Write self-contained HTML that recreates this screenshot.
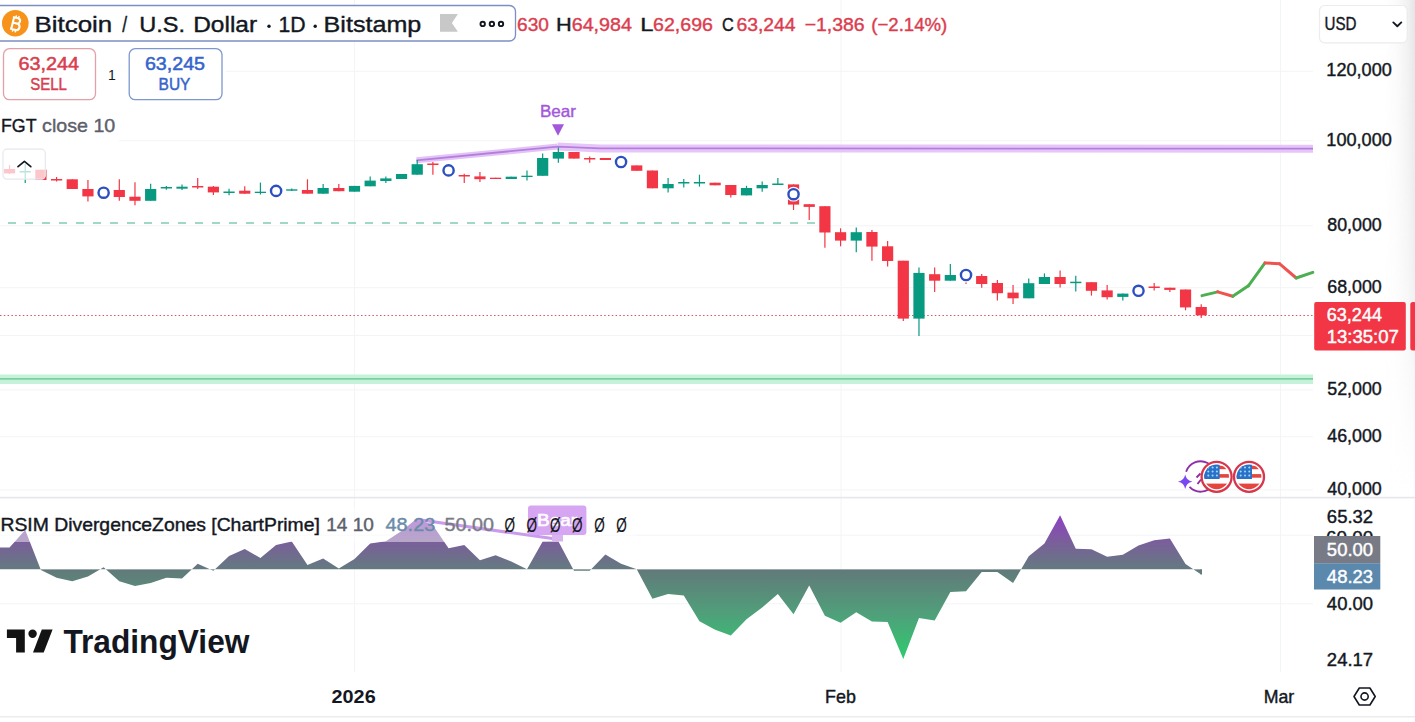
<!DOCTYPE html><html><head><meta charset="utf-8"><style>html,body{margin:0;padding:0;background:#fff;width:1415px;height:722px;overflow:hidden}svg,text{font-family:"Liberation Sans", sans-serif}</style></head><body><svg width="1415" height="722" viewBox="0 0 1415 722" style="display:block">
<defs>
<linearGradient id="gUp" gradientUnits="userSpaceOnUse" x1="0" y1="515" x2="0" y2="569">
<stop offset="0" stop-color="#8f3fc6"/><stop offset="0.5" stop-color="#7a5f9a"/><stop offset="1" stop-color="#647a80"/></linearGradient>
<linearGradient id="gDn" gradientUnits="userSpaceOnUse" x1="0" y1="569" x2="0" y2="660">
<stop offset="0" stop-color="#62797a"/><stop offset="0.5" stop-color="#4fa07a"/><stop offset="1" stop-color="#2ecc6f"/></linearGradient>
<linearGradient id="rshade" x1="0" y1="0" x2="1" y2="0">
<stop offset="0" stop-color="#e0e0e0" stop-opacity="0"/><stop offset="0.4" stop-color="#e0e0e0" stop-opacity="0.15"/><stop offset="0.75" stop-color="#e0e0e0" stop-opacity="0.45"/><stop offset="1" stop-color="#e0e0e0" stop-opacity="0.85"/></linearGradient>
<linearGradient id="vfade" x1="0" y1="0" x2="0" y2="1"><stop offset="0" stop-color="#fff"/><stop offset="0.55" stop-color="#fff" stop-opacity="0.6"/><stop offset="1" stop-color="#fff" stop-opacity="0"/></linearGradient>
<mask id="mshade"><rect x="1385" y="0" width="30" height="497" fill="url(#vfade)"/></mask>
<clipPath id="cUp"><rect x="0" y="480" width="1313" height="89.2"/></clipPath>
<clipPath id="cDn"><rect x="0" y="569.2" width="1313" height="110"/></clipPath>
<clipPath id="cMain"><rect x="0" y="0" width="1313" height="497"/></clipPath>
</defs>
<rect x="0" y="0" width="1415" height="722" fill="#ffffff"/>
<rect x="1385" y="0" width="30" height="497" fill="url(#rshade)" mask="url(#mshade)"/>
<line x1="0" y1="71.3" x2="1313" y2="71.3" stroke="#f3f4f6" stroke-width="1"/>
<line x1="0" y1="140.8" x2="1313" y2="140.8" stroke="#f3f4f6" stroke-width="1"/>
<line x1="0" y1="225.8" x2="1313" y2="225.8" stroke="#f3f4f6" stroke-width="1"/>
<line x1="0" y1="287.7" x2="1313" y2="287.7" stroke="#f3f4f6" stroke-width="1"/>
<line x1="0" y1="335.4" x2="1313" y2="335.4" stroke="#f3f4f6" stroke-width="1"/>
<line x1="0" y1="389.9" x2="1313" y2="389.9" stroke="#f3f4f6" stroke-width="1"/>
<line x1="0" y1="436.7" x2="1313" y2="436.7" stroke="#f3f4f6" stroke-width="1"/>
<line x1="0" y1="489.9" x2="1313" y2="489.9" stroke="#f3f4f6" stroke-width="1"/>
<line x1="0" y1="535.2" x2="1313" y2="535.2" stroke="#f3f4f6" stroke-width="1"/>
<line x1="0" y1="603.8" x2="1313" y2="603.8" stroke="#f3f4f6" stroke-width="1"/>
<line x1="354.5" y1="0" x2="354.5" y2="497" stroke="#f3f4f6" stroke-width="1"/>
<line x1="354.5" y1="498" x2="354.5" y2="672" stroke="#f3f4f6" stroke-width="1"/>
<line x1="841" y1="0" x2="841" y2="497" stroke="#f3f4f6" stroke-width="1"/>
<line x1="841" y1="498" x2="841" y2="672" stroke="#f3f4f6" stroke-width="1"/>
<line x1="1280.5" y1="0" x2="1280.5" y2="497" stroke="#f3f4f6" stroke-width="1"/>
<line x1="1280.5" y1="498" x2="1280.5" y2="672" stroke="#f3f4f6" stroke-width="1"/>
<rect x="0" y="374.5" width="1313" height="9.5" fill="#c5f2d8"/>
<line x1="0" y1="378.9" x2="1313" y2="378.9" stroke="#7ccfa4" stroke-width="1.6"/>
<line x1="0" y1="223" x2="815" y2="223" stroke="#80cbb2" stroke-width="1.6" stroke-dasharray="8 9" stroke-dashoffset="9"/>
<line x1="0" y1="315.5" x2="1313" y2="315.5" stroke="#c8495a" stroke-width="1.1" stroke-dasharray="1.5 2.3" opacity="0.9"/>
<g clip-path="url(#cMain)">
<polyline points="416.5,160.3 557.6,146.6" fill="none" stroke="#e3c3f7" stroke-width="6" stroke-linecap="butt"/>
<polyline points="557.6,146.6 600,148.4 1313,148.7" fill="none" stroke="#e6c6f8" stroke-width="8" stroke-linejoin="round"/>
<polyline points="416.5,160.3 557.6,146.6 600,148.4 1313,148.7" fill="none" stroke="#b47fdc" stroke-width="1.8" stroke-linejoin="round"/>
</g>
<line x1="9.54" y1="165" x2="9.54" y2="174" stroke="#f23645" stroke-width="1.2"/>
<rect x="3.94" y="169" width="11.2" height="4.40" fill="#f23645"/>
<line x1="25.22" y1="164" x2="25.22" y2="183" stroke="#089981" stroke-width="1.2"/>
<rect x="19.62" y="171" width="11.2" height="1.50" fill="#089981"/>
<line x1="40.90" y1="169.7" x2="40.90" y2="180" stroke="#f23645" stroke-width="1.2"/>
<rect x="35.30" y="169.7" width="11.2" height="10.30" fill="#f23645"/>
<line x1="56.58" y1="177" x2="56.58" y2="181.5" stroke="#f23645" stroke-width="1.2"/>
<rect x="50.98" y="179" width="11.2" height="1.50" fill="#f23645"/>
<line x1="72.26" y1="179.3" x2="72.26" y2="189" stroke="#f23645" stroke-width="1.2"/>
<rect x="66.66" y="179.3" width="11.2" height="9.70" fill="#f23645"/>
<line x1="87.94" y1="180" x2="87.94" y2="201.6" stroke="#f23645" stroke-width="1.2"/>
<rect x="82.34" y="189" width="11.2" height="7.40" fill="#f23645"/>
<line x1="103.62" y1="186" x2="103.62" y2="196" stroke="#f23645" stroke-width="1.2"/>
<rect x="98.02" y="190" width="11.2" height="3.00" fill="#f23645"/>
<line x1="119.30" y1="179.3" x2="119.30" y2="200.8" stroke="#f23645" stroke-width="1.2"/>
<rect x="113.70" y="190" width="11.2" height="7.00" fill="#f23645"/>
<line x1="134.98" y1="182.3" x2="134.98" y2="205.3" stroke="#f23645" stroke-width="1.2"/>
<rect x="129.38" y="196.7" width="11.2" height="4.10" fill="#f23645"/>
<line x1="150.66" y1="183.8" x2="150.66" y2="200.8" stroke="#089981" stroke-width="1.2"/>
<rect x="145.06" y="189" width="11.2" height="11.80" fill="#089981"/>
<line x1="166.34" y1="186" x2="166.34" y2="189.7" stroke="#089981" stroke-width="1.2"/>
<rect x="160.74" y="187" width="11.2" height="1.50" fill="#089981"/>
<line x1="182.02" y1="184.5" x2="182.02" y2="190" stroke="#089981" stroke-width="1.2"/>
<rect x="176.42" y="186.7" width="11.2" height="2.00" fill="#089981"/>
<line x1="197.70" y1="178" x2="197.70" y2="189" stroke="#f23645" stroke-width="1.2"/>
<rect x="192.10" y="186" width="11.2" height="1.50" fill="#f23645"/>
<line x1="213.38" y1="186" x2="213.38" y2="195" stroke="#f23645" stroke-width="1.2"/>
<rect x="207.78" y="186.7" width="11.2" height="5.70" fill="#f23645"/>
<line x1="229.06" y1="188.8" x2="229.06" y2="195.3" stroke="#089981" stroke-width="1.2"/>
<rect x="223.46" y="191.5" width="11.2" height="1.50" fill="#089981"/>
<line x1="244.74" y1="186.3" x2="244.74" y2="193.7" stroke="#f23645" stroke-width="1.2"/>
<rect x="239.14" y="190.7" width="11.2" height="3.00" fill="#f23645"/>
<line x1="260.42" y1="182.6" x2="260.42" y2="194.5" stroke="#089981" stroke-width="1.2"/>
<rect x="254.82" y="191.7" width="11.2" height="1.30" fill="#089981"/>
<line x1="276.10" y1="189" x2="276.10" y2="193" stroke="#089981" stroke-width="1.2"/>
<rect x="270.50" y="190" width="11.2" height="2.00" fill="#089981"/>
<line x1="291.78" y1="188.5" x2="291.78" y2="191" stroke="#089981" stroke-width="1.2"/>
<rect x="286.18" y="189.3" width="11.2" height="1.40" fill="#089981"/>
<line x1="307.46" y1="179.3" x2="307.46" y2="193.7" stroke="#f23645" stroke-width="1.2"/>
<rect x="301.86" y="190" width="11.2" height="3.70" fill="#f23645"/>
<line x1="323.14" y1="184" x2="323.14" y2="193.7" stroke="#089981" stroke-width="1.2"/>
<rect x="317.54" y="188" width="11.2" height="5.70" fill="#089981"/>
<line x1="338.82" y1="184" x2="338.82" y2="191.2" stroke="#f23645" stroke-width="1.2"/>
<rect x="333.22" y="188" width="11.2" height="3.20" fill="#f23645"/>
<line x1="354.50" y1="185.9" x2="354.50" y2="191.7" stroke="#089981" stroke-width="1.2"/>
<rect x="348.90" y="185.9" width="11.2" height="5.80" fill="#089981"/>
<line x1="370.18" y1="176.6" x2="370.18" y2="186.3" stroke="#089981" stroke-width="1.2"/>
<rect x="364.58" y="180.6" width="11.2" height="5.70" fill="#089981"/>
<line x1="385.86" y1="176.5" x2="385.86" y2="183" stroke="#089981" stroke-width="1.2"/>
<rect x="380.26" y="178.4" width="11.2" height="2.60" fill="#089981"/>
<line x1="401.54" y1="174" x2="401.54" y2="179" stroke="#089981" stroke-width="1.2"/>
<rect x="395.94" y="174" width="11.2" height="5.00" fill="#089981"/>
<line x1="417.22" y1="160" x2="417.22" y2="174.7" stroke="#089981" stroke-width="1.2"/>
<rect x="411.62" y="164.2" width="11.2" height="10.50" fill="#089981"/>
<line x1="432.90" y1="162" x2="432.90" y2="174.7" stroke="#f23645" stroke-width="1.2"/>
<rect x="427.30" y="163.5" width="11.2" height="1.50" fill="#f23645"/>
<line x1="448.58" y1="167" x2="448.58" y2="175" stroke="#f23645" stroke-width="1.2"/>
<rect x="442.98" y="169" width="11.2" height="3.00" fill="#f23645"/>
<line x1="464.26" y1="173.8" x2="464.26" y2="183" stroke="#f23645" stroke-width="1.2"/>
<rect x="458.66" y="175" width="11.2" height="1.50" fill="#f23645"/>
<line x1="479.94" y1="172" x2="479.94" y2="182" stroke="#f23645" stroke-width="1.2"/>
<rect x="474.34" y="176.4" width="11.2" height="2.80" fill="#f23645"/>
<line x1="495.62" y1="177.7" x2="495.62" y2="179" stroke="#f23645" stroke-width="1.2"/>
<rect x="490.02" y="177.7" width="11.2" height="1.30" fill="#f23645"/>
<line x1="511.30" y1="176.7" x2="511.30" y2="179" stroke="#089981" stroke-width="1.2"/>
<rect x="505.70" y="176.7" width="11.2" height="2.30" fill="#089981"/>
<line x1="526.98" y1="170.4" x2="526.98" y2="180.6" stroke="#089981" stroke-width="1.2"/>
<rect x="521.38" y="175.7" width="11.2" height="1.30" fill="#089981"/>
<line x1="542.66" y1="153.5" x2="542.66" y2="175.8" stroke="#089981" stroke-width="1.2"/>
<rect x="537.06" y="158" width="11.2" height="17.80" fill="#089981"/>
<line x1="558.34" y1="147.5" x2="558.34" y2="162.8" stroke="#089981" stroke-width="1.2"/>
<rect x="552.74" y="152" width="11.2" height="6.60" fill="#089981"/>
<line x1="574.02" y1="152" x2="574.02" y2="158.6" stroke="#f23645" stroke-width="1.2"/>
<rect x="568.42" y="152" width="11.2" height="6.60" fill="#f23645"/>
<line x1="589.70" y1="156.4" x2="589.70" y2="162.8" stroke="#f23645" stroke-width="1.2"/>
<rect x="584.10" y="158" width="11.2" height="1.50" fill="#f23645"/>
<line x1="605.38" y1="158" x2="605.38" y2="160" stroke="#f23645" stroke-width="1.2"/>
<rect x="599.78" y="158" width="11.2" height="2.00" fill="#f23645"/>
<line x1="621.06" y1="159" x2="621.06" y2="166" stroke="#f23645" stroke-width="1.2"/>
<rect x="615.46" y="160" width="11.2" height="4.00" fill="#f23645"/>
<line x1="636.74" y1="165.4" x2="636.74" y2="170.8" stroke="#f23645" stroke-width="1.2"/>
<rect x="631.14" y="165.4" width="11.2" height="5.40" fill="#f23645"/>
<line x1="652.42" y1="170.5" x2="652.42" y2="188.3" stroke="#f23645" stroke-width="1.2"/>
<rect x="646.82" y="170.5" width="11.2" height="17.80" fill="#f23645"/>
<line x1="668.10" y1="178" x2="668.10" y2="192.5" stroke="#089981" stroke-width="1.2"/>
<rect x="662.50" y="184" width="11.2" height="4.30" fill="#089981"/>
<line x1="683.78" y1="179" x2="683.78" y2="187.5" stroke="#089981" stroke-width="1.2"/>
<rect x="678.18" y="182" width="11.2" height="1.50" fill="#089981"/>
<line x1="699.46" y1="174.7" x2="699.46" y2="186.6" stroke="#089981" stroke-width="1.2"/>
<rect x="693.86" y="182" width="11.2" height="1.50" fill="#089981"/>
<line x1="715.14" y1="182.7" x2="715.14" y2="185.3" stroke="#f23645" stroke-width="1.2"/>
<rect x="709.54" y="182.7" width="11.2" height="2.60" fill="#f23645"/>
<line x1="730.82" y1="185" x2="730.82" y2="197.6" stroke="#f23645" stroke-width="1.2"/>
<rect x="725.22" y="185" width="11.2" height="10.00" fill="#f23645"/>
<line x1="746.50" y1="185.8" x2="746.50" y2="195.4" stroke="#089981" stroke-width="1.2"/>
<rect x="740.90" y="188" width="11.2" height="7.40" fill="#089981"/>
<line x1="762.18" y1="181.5" x2="762.18" y2="191.7" stroke="#089981" stroke-width="1.2"/>
<rect x="756.58" y="185" width="11.2" height="3.30" fill="#089981"/>
<line x1="777.86" y1="178" x2="777.86" y2="185" stroke="#089981" stroke-width="1.2"/>
<rect x="772.26" y="183.5" width="11.2" height="1.50" fill="#089981"/>
<line x1="793.54" y1="184.4" x2="793.54" y2="210" stroke="#f23645" stroke-width="1.2"/>
<rect x="787.94" y="184.4" width="11.2" height="20.20" fill="#f23645"/>
<line x1="809.22" y1="204.2" x2="809.22" y2="220" stroke="#f23645" stroke-width="1.2"/>
<rect x="803.62" y="204.2" width="11.2" height="2.70" fill="#f23645"/>
<line x1="824.90" y1="206.2" x2="824.90" y2="247.7" stroke="#f23645" stroke-width="1.2"/>
<rect x="819.30" y="206.2" width="11.2" height="26.30" fill="#f23645"/>
<line x1="840.58" y1="228.3" x2="840.58" y2="246.3" stroke="#f23645" stroke-width="1.2"/>
<rect x="834.98" y="232.2" width="11.2" height="8.40" fill="#f23645"/>
<line x1="856.26" y1="227.6" x2="856.26" y2="252.2" stroke="#089981" stroke-width="1.2"/>
<rect x="850.66" y="232.2" width="11.2" height="8.40" fill="#089981"/>
<line x1="871.94" y1="230" x2="871.94" y2="260.7" stroke="#f23645" stroke-width="1.2"/>
<rect x="866.34" y="232" width="11.2" height="14.60" fill="#f23645"/>
<line x1="887.62" y1="241" x2="887.62" y2="266.6" stroke="#f23645" stroke-width="1.2"/>
<rect x="882.02" y="246.3" width="11.2" height="14.70" fill="#f23645"/>
<line x1="903.30" y1="260.7" x2="903.30" y2="321" stroke="#f23645" stroke-width="1.2"/>
<rect x="897.70" y="260.7" width="11.2" height="57.90" fill="#f23645"/>
<line x1="918.98" y1="267.5" x2="918.98" y2="336" stroke="#089981" stroke-width="1.2"/>
<rect x="913.38" y="272.9" width="11.2" height="45.70" fill="#089981"/>
<line x1="934.66" y1="267.5" x2="934.66" y2="292" stroke="#f23645" stroke-width="1.2"/>
<rect x="929.06" y="274.2" width="11.2" height="6.50" fill="#f23645"/>
<line x1="950.34" y1="264" x2="950.34" y2="280.7" stroke="#089981" stroke-width="1.2"/>
<rect x="944.74" y="275" width="11.2" height="5.70" fill="#089981"/>
<line x1="966.02" y1="270" x2="966.02" y2="284" stroke="#f23645" stroke-width="1.2"/>
<rect x="960.42" y="272" width="11.2" height="6.00" fill="#f23645"/>
<line x1="981.70" y1="274" x2="981.70" y2="287.8" stroke="#f23645" stroke-width="1.2"/>
<rect x="976.10" y="276" width="11.2" height="8.00" fill="#f23645"/>
<line x1="997.38" y1="280" x2="997.38" y2="300.5" stroke="#f23645" stroke-width="1.2"/>
<rect x="991.78" y="283" width="11.2" height="10.20" fill="#f23645"/>
<line x1="1013.06" y1="285" x2="1013.06" y2="304" stroke="#f23645" stroke-width="1.2"/>
<rect x="1007.46" y="292.6" width="11.2" height="5.70" fill="#f23645"/>
<line x1="1028.74" y1="278.5" x2="1028.74" y2="298.3" stroke="#089981" stroke-width="1.2"/>
<rect x="1023.14" y="283.2" width="11.2" height="15.10" fill="#089981"/>
<line x1="1044.42" y1="273.4" x2="1044.42" y2="284" stroke="#089981" stroke-width="1.2"/>
<rect x="1038.82" y="277" width="11.2" height="7.00" fill="#089981"/>
<line x1="1060.10" y1="270.5" x2="1060.10" y2="287.5" stroke="#f23645" stroke-width="1.2"/>
<rect x="1054.50" y="277" width="11.2" height="7.00" fill="#f23645"/>
<line x1="1075.78" y1="275.7" x2="1075.78" y2="291.4" stroke="#089981" stroke-width="1.2"/>
<rect x="1070.18" y="281.7" width="11.2" height="1.50" fill="#089981"/>
<line x1="1091.46" y1="282.2" x2="1091.46" y2="295.6" stroke="#f23645" stroke-width="1.2"/>
<rect x="1085.86" y="282.2" width="11.2" height="8.60" fill="#f23645"/>
<line x1="1107.14" y1="285" x2="1107.14" y2="299.6" stroke="#f23645" stroke-width="1.2"/>
<rect x="1101.54" y="290.4" width="11.2" height="6.80" fill="#f23645"/>
<line x1="1122.82" y1="293.6" x2="1122.82" y2="300.5" stroke="#089981" stroke-width="1.2"/>
<rect x="1117.22" y="293.6" width="11.2" height="3.30" fill="#089981"/>
<line x1="1138.50" y1="288" x2="1138.50" y2="293" stroke="#089981" stroke-width="1.2"/>
<rect x="1132.90" y="289" width="11.2" height="3.00" fill="#089981"/>
<line x1="1154.18" y1="283" x2="1154.18" y2="290.4" stroke="#f23645" stroke-width="1.2"/>
<rect x="1148.58" y="286.5" width="11.2" height="1.50" fill="#f23645"/>
<line x1="1169.86" y1="287.7" x2="1169.86" y2="292" stroke="#f23645" stroke-width="1.2"/>
<rect x="1164.26" y="287.7" width="11.2" height="2.20" fill="#f23645"/>
<line x1="1185.54" y1="289.5" x2="1185.54" y2="310.3" stroke="#f23645" stroke-width="1.2"/>
<rect x="1179.94" y="289.5" width="11.2" height="17.90" fill="#f23645"/>
<line x1="1201.22" y1="304.2" x2="1201.22" y2="318" stroke="#f23645" stroke-width="1.2"/>
<rect x="1195.62" y="307" width="11.2" height="8.30" fill="#f23645"/>
<circle cx="103.62" cy="192.7" r="7.4" fill="#ffffff"/>
<circle cx="103.62" cy="192.7" r="5.1" fill="#ffffff" stroke="#2d4fbf" stroke-width="2.4"/>
<circle cx="276.10" cy="190.9" r="7.4" fill="#ffffff"/>
<circle cx="276.10" cy="190.9" r="5.1" fill="#ffffff" stroke="#2d4fbf" stroke-width="2.4"/>
<circle cx="448.58" cy="170.4" r="7.4" fill="#ffffff"/>
<circle cx="448.58" cy="170.4" r="5.1" fill="#ffffff" stroke="#2d4fbf" stroke-width="2.4"/>
<circle cx="621.06" cy="162" r="7.4" fill="#ffffff"/>
<circle cx="621.06" cy="162" r="5.1" fill="#ffffff" stroke="#2d4fbf" stroke-width="2.4"/>
<circle cx="793.54" cy="194.2" r="7.4" fill="#ffffff"/>
<circle cx="793.54" cy="194.2" r="5.1" fill="#ffffff" stroke="#2d4fbf" stroke-width="2.4"/>
<circle cx="966.02" cy="275" r="7.4" fill="#ffffff"/>
<circle cx="966.02" cy="275" r="5.1" fill="#ffffff" stroke="#2d4fbf" stroke-width="2.4"/>
<circle cx="1138.50" cy="290.8" r="7.4" fill="#ffffff"/>
<circle cx="1138.50" cy="290.8" r="5.1" fill="#ffffff" stroke="#2d4fbf" stroke-width="2.4"/>
<line x1="1202" y1="295.6" x2="1217.7" y2="291.9" stroke="#4caf50" stroke-width="3" stroke-linecap="round"/>
<line x1="1217.7" y1="291.9" x2="1232.8" y2="296.3" stroke="#ef5350" stroke-width="3" stroke-linecap="round"/>
<line x1="1232.8" y1="296.3" x2="1248.4" y2="285.8" stroke="#4caf50" stroke-width="3" stroke-linecap="round"/>
<line x1="1248.4" y1="285.8" x2="1265" y2="262.9" stroke="#4caf50" stroke-width="3" stroke-linecap="round"/>
<line x1="1265" y1="262.9" x2="1279.7" y2="263.8" stroke="#ef5350" stroke-width="3" stroke-linecap="round"/>
<line x1="1279.7" y1="263.8" x2="1296.2" y2="278" stroke="#ef5350" stroke-width="3" stroke-linecap="round"/>
<line x1="1296.2" y1="278" x2="1312.8" y2="272.4" stroke="#4caf50" stroke-width="3" stroke-linecap="round"/>
<text x="540" y="117" font-size="16.5" fill="#a357db" stroke="#a357db" stroke-width="0.4" textLength="36" lengthAdjust="spacingAndGlyphs">Bear</text>
<path d="M552,124.2 L564,124.2 L558,135.7 Z" fill="#a357db"/>
<polygon points="-12,569.2 -12,547.5 9.54,547.50 25.22,530.00 40.90,570.00 56.58,577.80 72.26,581.30 87.94,576.60 103.62,567.30 119.30,581.30 134.98,586.00 150.66,583.00 166.34,577.80 182.02,578.50 197.70,563.80 213.38,570.80 229.06,556.00 244.74,549.00 260.42,558.00 276.10,545.00 291.78,541.60 307.46,565.00 323.14,558.40 338.82,568.50 354.50,559.00 370.18,543.50 385.86,541.20 401.54,531.00 417.22,518.30 432.90,525.30 448.58,548.20 464.26,545.10 479.94,560.30 495.62,555.20 511.30,561.50 526.98,569.20 542.66,541.60 558.34,541.20 574.02,570.80 589.70,570.80 605.38,554.50 621.06,563.80 636.74,569.20 652.42,598.80 668.10,594.10 683.78,595.50 699.46,621.20 715.14,629.80 730.82,635.60 746.50,619.30 762.18,607.60 777.86,594.10 793.54,614.20 809.22,585.50 824.90,615.80 840.58,622.80 856.26,612.30 871.94,621.60 887.62,622.10 903.30,658.90 918.98,618.10 934.66,620.50 950.34,592.00 966.02,591.20 981.70,572.00 997.38,572.00 1013.06,583.10 1028.74,556.20 1044.42,543.50 1060.10,515.30 1075.78,548.80 1091.46,549.20 1107.14,556.80 1122.82,554.70 1138.50,545.60 1154.18,540.30 1169.86,538.60 1185.54,564.00 1201.22,574.60 1201.22,569.2" fill="url(#gUp)" clip-path="url(#cUp)"/>
<polygon points="-12,569.2 -12,547.5 9.54,547.50 25.22,530.00 40.90,570.00 56.58,577.80 72.26,581.30 87.94,576.60 103.62,567.30 119.30,581.30 134.98,586.00 150.66,583.00 166.34,577.80 182.02,578.50 197.70,563.80 213.38,570.80 229.06,556.00 244.74,549.00 260.42,558.00 276.10,545.00 291.78,541.60 307.46,565.00 323.14,558.40 338.82,568.50 354.50,559.00 370.18,543.50 385.86,541.20 401.54,531.00 417.22,518.30 432.90,525.30 448.58,548.20 464.26,545.10 479.94,560.30 495.62,555.20 511.30,561.50 526.98,569.20 542.66,541.60 558.34,541.20 574.02,570.80 589.70,570.80 605.38,554.50 621.06,563.80 636.74,569.20 652.42,598.80 668.10,594.10 683.78,595.50 699.46,621.20 715.14,629.80 730.82,635.60 746.50,619.30 762.18,607.60 777.86,594.10 793.54,614.20 809.22,585.50 824.90,615.80 840.58,622.80 856.26,612.30 871.94,621.60 887.62,622.10 903.30,658.90 918.98,618.10 934.66,620.50 950.34,592.00 966.02,591.20 981.70,572.00 997.38,572.00 1013.06,583.10 1028.74,556.20 1044.42,543.50 1060.10,515.30 1075.78,548.80 1091.46,549.20 1107.14,556.80 1122.82,554.70 1138.50,545.60 1154.18,540.30 1169.86,538.60 1185.54,564.00 1201.22,574.60 1201.22,569.2" fill="url(#gDn)" clip-path="url(#cDn)"/>
<line x1="1201.22" y1="569.2" x2="1201.22" y2="574.6" stroke="#62797a" stroke-width="1.5"/>
<rect x="0" y="507" width="636" height="35" fill="#ffffff" fill-opacity="0.45"/>
<line x1="417.3" y1="519.5" x2="556" y2="539" stroke="#c99bec" stroke-width="3.2"/>
<rect x="552" y="535" width="11" height="6.5" fill="#d8b4f0"/>
<rect x="528" y="505.5" width="58.4" height="29.6" rx="3" fill="#d6a6f2"/>
<text x="537" y="526" font-size="16" fill="#ffffff" fill-opacity="0.92" stroke="#ffffff" stroke-width="0.6" textLength="40" lengthAdjust="spacingAndGlyphs">Bear</text>
<text x="0.45999999999999996" y="531.1" font-size="18.5" font-weight="normal" fill="#131722" text-anchor="start" textLength="319.44" lengthAdjust="spacingAndGlyphs" stroke="#131722" stroke-width="0.4">RSIM DivergenceZones [ChartPrime]</text>
<text x="326.15" y="531.1" font-size="18.5" font-weight="normal" fill="#5d606b" text-anchor="start" textLength="47.75" lengthAdjust="spacingAndGlyphs" stroke="#5d606b" stroke-width="0.4">14 10</text>
<text x="385.44" y="531.1" font-size="18.5" font-weight="normal" fill="#6a8ca8" text-anchor="start" textLength="49.90" lengthAdjust="spacingAndGlyphs" stroke="#6a8ca8" stroke-width="0.4">48.23</text>
<text x="444.49" y="531.1" font-size="18.5" font-weight="normal" fill="#787b86" text-anchor="start" textLength="49.41" lengthAdjust="spacingAndGlyphs" stroke="#787b86" stroke-width="0.4">50.00</text>
<text x="504.4" y="532" font-size="20" font-weight="normal" fill="#131722" text-anchor="start" textLength="10.50" lengthAdjust="spacingAndGlyphs" stroke="#131722" stroke-width="0.2">Ø</text>
<text x="526.5" y="532" font-size="20" font-weight="normal" fill="#131722" text-anchor="start" textLength="10.50" lengthAdjust="spacingAndGlyphs" stroke="#131722" stroke-width="0.2">Ø</text>
<text x="549.9" y="532" font-size="20" font-weight="normal" fill="#131722" text-anchor="start" textLength="10.50" lengthAdjust="spacingAndGlyphs" stroke="#131722" stroke-width="0.2">Ø</text>
<text x="572" y="532" font-size="20" font-weight="normal" fill="#131722" text-anchor="start" textLength="10.50" lengthAdjust="spacingAndGlyphs" stroke="#131722" stroke-width="0.2">Ø</text>
<text x="594.2" y="532" font-size="20" font-weight="normal" fill="#131722" text-anchor="start" textLength="10.50" lengthAdjust="spacingAndGlyphs" stroke="#131722" stroke-width="0.2">Ø</text>
<text x="616.3" y="532" font-size="20" font-weight="normal" fill="#131722" text-anchor="start" textLength="10.50" lengthAdjust="spacingAndGlyphs" stroke="#131722" stroke-width="0.2">Ø</text>
<rect x="-10" y="5.5" width="525.5" height="35.5" rx="6" fill="#ffffff" stroke="#7d8ec4" stroke-width="1.3"/>
<circle cx="15.3" cy="23.2" r="13.3" fill="#f7931a"/>
<g transform="translate(15.6,23.8) rotate(14)" fill="none" stroke="#ffffff"><path d="M-3,-6 V6 M-4.2,-6 H1 C4.6,-6 4.6,-0.5 1,-0.5 H-3 M-3,-0.5 H1.6 C5.6,-0.5 5.6,6 1.6,6 H-4.2" stroke-width="2.1"/><path d="M-1.2,-8.4 V-6 M1.6,-8.4 V-6 M-1.2,6 V8.4 M1.6,6 V8.4" stroke-width="1.5"/></g>
<text x="34.42" y="32.4" font-size="22.5" font-weight="normal" fill="#131722" text-anchor="start" textLength="77.87" lengthAdjust="spacingAndGlyphs" stroke="#131722" stroke-width="0.4">Bitcoin</text>
<text x="122.17" y="32.4" font-size="22.5" font-weight="normal" fill="#131722" text-anchor="start" textLength="4.88" lengthAdjust="spacingAndGlyphs" stroke="#131722" stroke-width="0.4">/</text>
<text x="139.2" y="32.4" font-size="22.5" font-weight="normal" fill="#131722" text-anchor="start" textLength="45.82" lengthAdjust="spacingAndGlyphs" stroke="#131722" stroke-width="0.4">U.S.</text>
<text x="193.2" y="32.4" font-size="22.5" font-weight="normal" fill="#131722" text-anchor="start" textLength="63.97" lengthAdjust="spacingAndGlyphs" stroke="#131722" stroke-width="0.4">Dollar</text>
<text x="278.54" y="32.4" font-size="22.5" font-weight="normal" fill="#131722" text-anchor="start" textLength="27.14" lengthAdjust="spacingAndGlyphs" stroke="#131722" stroke-width="0.4">1D</text>
<text x="323.64" y="32.4" font-size="22.5" font-weight="normal" fill="#131722" text-anchor="start" textLength="97.65" lengthAdjust="spacingAndGlyphs" stroke="#131722" stroke-width="0.4">Bitstamp</text>
<circle cx="269" cy="26.3" r="1.7" fill="#131722"/>
<circle cx="315.2" cy="26.3" r="1.7" fill="#131722"/>
<path d="M440,14 L457.9,14 L451.9,23 L457.9,31.7 L440,31.7 Z" fill="#c8c8c8"/>
<circle cx="482.7" cy="23.9" r="2.2" fill="none" stroke="#131722" stroke-width="1.9"/>
<circle cx="491.9" cy="23.9" r="2.2" fill="none" stroke="#131722" stroke-width="1.9"/>
<circle cx="501" cy="23.9" r="2.2" fill="none" stroke="#131722" stroke-width="1.9"/>
<text x="517.1" y="30.8" font-size="19" font-weight="normal" fill="#dc3d4e" text-anchor="start" textLength="31.80" lengthAdjust="spacingAndGlyphs" stroke="#dc3d4e" stroke-width="0.4">630</text>
<text x="556.08" y="30.8" font-size="19" font-weight="normal" fill="#131722" text-anchor="start" textLength="15.72" lengthAdjust="spacingAndGlyphs" stroke="#131722" stroke-width="0.4">H</text>
<text x="571.71" y="30.8" font-size="19" font-weight="normal" fill="#dc3d4e" text-anchor="start" textLength="60.29" lengthAdjust="spacingAndGlyphs" stroke="#dc3d4e" stroke-width="0.4">64,984</text>
<text x="640.25" y="30.8" font-size="19" font-weight="normal" fill="#131722" text-anchor="start" textLength="13.21" lengthAdjust="spacingAndGlyphs" stroke="#131722" stroke-width="0.4">L</text>
<text x="653.1" y="30.8" font-size="19" font-weight="normal" fill="#dc3d4e" text-anchor="start" textLength="59.80" lengthAdjust="spacingAndGlyphs" stroke="#dc3d4e" stroke-width="0.4">62,696</text>
<text x="722.1" y="30.8" font-size="19" font-weight="normal" fill="#131722" text-anchor="start" textLength="11.80" lengthAdjust="spacingAndGlyphs" stroke="#131722" stroke-width="0.4">C</text>
<text x="736.4399999999999" y="30.8" font-size="19" font-weight="normal" fill="#dc3d4e" text-anchor="start" textLength="59.12" lengthAdjust="spacingAndGlyphs" stroke="#dc3d4e" stroke-width="0.4">63,244</text>
<text x="804.71" y="30.8" font-size="19" font-weight="normal" fill="#dc3d4e" text-anchor="start" textLength="59.97" lengthAdjust="spacingAndGlyphs" stroke="#dc3d4e" stroke-width="0.4">−1,386</text>
<text x="871.3199999999999" y="30.8" font-size="19" font-weight="normal" fill="#dc3d4e" text-anchor="start" textLength="75.97" lengthAdjust="spacingAndGlyphs" stroke="#dc3d4e" stroke-width="0.4">(−2.14%)</text>
<rect x="0" y="45" width="226" height="58" fill="#ffffff" fill-opacity="0.9"/>
<rect x="0" y="109" width="119" height="34" fill="#ffffff" fill-opacity="0.9"/>
<rect x="3.5" y="48.7" width="92" height="51" rx="6" fill="#ffffff" stroke="#e3a0a7" stroke-width="1.3"/>
<rect x="129.2" y="48.7" width="92.8" height="51" rx="6" fill="#ffffff" stroke="#7f97cf" stroke-width="1.3"/>
<text x="18.490000000000002" y="69.9" font-size="17.5" font-weight="normal" fill="#d8404f" text-anchor="start" textLength="60.51" lengthAdjust="spacingAndGlyphs" stroke="#d8404f" stroke-width="0.5">63,244</text>
<text x="30.27" y="89.7" font-size="16" font-weight="normal" fill="#d8404f" text-anchor="start" textLength="36.68" lengthAdjust="spacingAndGlyphs" stroke="#d8404f" stroke-width="0.45">SELL</text>
<text x="144.93" y="69.9" font-size="17.5" font-weight="normal" fill="#3564cc" text-anchor="start" textLength="60.07" lengthAdjust="spacingAndGlyphs" stroke="#3564cc" stroke-width="0.5">63,245</text>
<text x="158.59" y="89.7" font-size="16" font-weight="normal" fill="#3564cc" text-anchor="start" textLength="31.80" lengthAdjust="spacingAndGlyphs" stroke="#3564cc" stroke-width="0.45">BUY</text>
<text x="112" y="80.2" font-size="14" font-weight="normal" fill="#131722" text-anchor="middle">1</text>
<text x="0.96" y="131.5" font-size="19" font-weight="normal" fill="#131722" text-anchor="start" textLength="35.54" lengthAdjust="spacingAndGlyphs" stroke="#131722" stroke-width="0.4">FGT</text>
<text x="42.1" y="131.5" font-size="19" font-weight="normal" fill="#5d606b" text-anchor="start" textLength="73.19" lengthAdjust="spacingAndGlyphs" stroke="#5d606b" stroke-width="0.4">close 10</text>
<rect x="3" y="149.2" width="42.3" height="30" rx="4" fill="#ffffff" fill-opacity="0.72" stroke="#e6e8ee" stroke-width="1.2"/>
<path d="M18,166.6 L24.4,161.3 L30.8,166.6" fill="none" stroke="#131722" stroke-width="1.7" stroke-linecap="round" stroke-linejoin="round"/>
<g>
<path d="M1186.1,471.8 A15.2,15.2 0 1 1 1189.5,486.9" fill="none" stroke="#8e2fa8" stroke-width="1.9"/>
<path d="M1196.5,477.5 L1200.5,473.5 M1197.5,484 L1201,479.5" fill="none" stroke="#8e2fa8" stroke-width="1.9"/>
<path d="M1185.2,474.6 Q1186.3,480.7 1192.4,481.8 Q1186.3,482.9 1185.2,489 Q1184.1,482.9 1178,481.8 Q1184.1,480.7 1185.2,474.6 Z" fill="#7a48f2"/>
<circle cx="1216.6" cy="476.8" r="15" fill="#ffffff" stroke="#d8364b" stroke-width="2.3"/>
<clipPath id="fl1216"><circle cx="1216.6" cy="476.8" r="12.4"/></clipPath>
<g clip-path="url(#fl1216)">
<rect x="1203.6" y="463" width="26" height="26" fill="#ffffff"/>
<rect x="1203.6" y="465.6" width="26" height="3.6" fill="#e4453f"/>
<rect x="1203.6" y="474.1" width="26" height="3.6" fill="#e4453f"/>
<rect x="1203.6" y="483.6" width="26" height="8" fill="#e4453f"/>
<rect x="1203.6" y="463" width="16" height="16" fill="#2a72c8"/>
<circle cx="1208.3" cy="467.4" r="1.0" fill="#9fdcff"/>
<circle cx="1212.6" cy="467.4" r="1.0" fill="#9fdcff"/>
<circle cx="1216.8999999999999" cy="467.4" r="1.0" fill="#9fdcff"/>
<circle cx="1208.3" cy="471.5" r="1.0" fill="#9fdcff"/>
<circle cx="1212.6" cy="471.5" r="1.0" fill="#9fdcff"/>
<circle cx="1216.8999999999999" cy="471.5" r="1.0" fill="#9fdcff"/>
<circle cx="1208.3" cy="475.59999999999997" r="1.0" fill="#9fdcff"/>
<circle cx="1212.6" cy="475.59999999999997" r="1.0" fill="#9fdcff"/>
<circle cx="1216.8999999999999" cy="475.59999999999997" r="1.0" fill="#9fdcff"/>
</g>
<circle cx="1249" cy="476.8" r="15" fill="#ffffff" stroke="#d8364b" stroke-width="2.3"/>
<clipPath id="fl1249"><circle cx="1249" cy="476.8" r="12.4"/></clipPath>
<g clip-path="url(#fl1249)">
<rect x="1236" y="463" width="26" height="26" fill="#ffffff"/>
<rect x="1236" y="465.6" width="26" height="3.6" fill="#e4453f"/>
<rect x="1236" y="474.1" width="26" height="3.6" fill="#e4453f"/>
<rect x="1236" y="483.6" width="26" height="8" fill="#e4453f"/>
<rect x="1236" y="463" width="16" height="16" fill="#2a72c8"/>
<circle cx="1240.7" cy="467.4" r="1.0" fill="#9fdcff"/>
<circle cx="1245.0" cy="467.4" r="1.0" fill="#9fdcff"/>
<circle cx="1249.3" cy="467.4" r="1.0" fill="#9fdcff"/>
<circle cx="1240.7" cy="471.5" r="1.0" fill="#9fdcff"/>
<circle cx="1245.0" cy="471.5" r="1.0" fill="#9fdcff"/>
<circle cx="1249.3" cy="471.5" r="1.0" fill="#9fdcff"/>
<circle cx="1240.7" cy="475.59999999999997" r="1.0" fill="#9fdcff"/>
<circle cx="1245.0" cy="475.59999999999997" r="1.0" fill="#9fdcff"/>
<circle cx="1249.3" cy="475.59999999999997" r="1.0" fill="#9fdcff"/>
</g>
</g>
<rect x="0" y="496.8" width="1415" height="1.6" fill="#e6e7eb"/>
<rect x="0" y="716" width="1415" height="1.5" fill="#ececec"/>
<text x="1326.3700000000001" y="76.2" font-size="17.5" font-weight="normal" fill="#131722" text-anchor="start" textLength="65.41" lengthAdjust="spacingAndGlyphs" stroke="#131722" stroke-width="0.4">120,000</text>
<text x="1326.3700000000001" y="145.7" font-size="17.5" font-weight="normal" fill="#131722" text-anchor="start" textLength="65.41" lengthAdjust="spacingAndGlyphs" stroke="#131722" stroke-width="0.4">100,000</text>
<text x="1327.27" y="230.7" font-size="17.5" font-weight="normal" fill="#131722" text-anchor="start" textLength="54.51" lengthAdjust="spacingAndGlyphs" stroke="#131722" stroke-width="0.4">80,000</text>
<text x="1327.27" y="292.6" font-size="17.5" font-weight="normal" fill="#131722" text-anchor="start" textLength="54.51" lengthAdjust="spacingAndGlyphs" stroke="#131722" stroke-width="0.4">68,000</text>
<text x="1327.27" y="394.8" font-size="17.5" font-weight="normal" fill="#131722" text-anchor="start" textLength="54.51" lengthAdjust="spacingAndGlyphs" stroke="#131722" stroke-width="0.4">52,000</text>
<text x="1327.27" y="441.6" font-size="17.5" font-weight="normal" fill="#131722" text-anchor="start" textLength="54.51" lengthAdjust="spacingAndGlyphs" stroke="#131722" stroke-width="0.4">46,000</text>
<text x="1327.27" y="494.8" font-size="17.5" font-weight="normal" fill="#131722" text-anchor="start" textLength="54.51" lengthAdjust="spacingAndGlyphs" stroke="#131722" stroke-width="0.4">40,000</text>
<rect x="1314.2" y="302" width="91.6" height="48.4" rx="2" fill="#f23645"/>
<rect x="1410.3" y="302" width="6" height="48.4" rx="2.5" fill="#f23645"/>
<text x="1326.71" y="321.2" font-size="18" font-weight="normal" fill="#ffffff" text-anchor="start" textLength="55.29" lengthAdjust="spacingAndGlyphs" stroke="#ffffff" stroke-width="0.45">63,244</text>
<text x="1326.71" y="342.6" font-size="18" font-weight="normal" fill="#ffffff" text-anchor="start" textLength="72.19" lengthAdjust="spacingAndGlyphs" stroke="#ffffff" stroke-width="0.45">13:35:07</text>
<rect x="1319.5" y="5.5" width="87.7" height="37.3" rx="5" fill="#ffffff" stroke="#ececec" stroke-width="1.2"/>
<text x="1324.54" y="30.3" font-size="17.5" font-weight="normal" fill="#131722" text-anchor="start" textLength="31.97" lengthAdjust="spacingAndGlyphs" stroke="#131722" stroke-width="0.4">USD</text>
<path d="M1393.3,22.4 L1397.3,26.2 L1401.3,22.4" fill="none" stroke="#131722" stroke-width="1.9" stroke-linecap="round" stroke-linejoin="round"/>
<text x="1326.8799999999999" y="522.9" font-size="17.5" font-weight="normal" fill="#131722" text-anchor="start" textLength="46.24" lengthAdjust="spacingAndGlyphs" stroke="#131722" stroke-width="0.4">65.32</text>
<text x="1325.98" y="543.5" font-size="17.5" font-weight="normal" fill="#131722" text-anchor="start" textLength="47.14" lengthAdjust="spacingAndGlyphs" stroke="#131722" stroke-width="0.4">60.00</text>
<rect x="1314" y="536" width="66.3" height="27.2" fill="#787b86"/>
<rect x="1314" y="563.2" width="66.3" height="26.3" fill="#5b88ad"/>
<text x="1326.8799999999999" y="555.8" font-size="17.5" font-weight="normal" fill="#ffffff" text-anchor="start" textLength="46.24" lengthAdjust="spacingAndGlyphs" stroke="#ffffff" stroke-width="0.4">50.00</text>
<text x="1326.8799999999999" y="582.6" font-size="17.5" font-weight="normal" fill="#ffffff" text-anchor="start" textLength="46.24" lengthAdjust="spacingAndGlyphs" stroke="#ffffff" stroke-width="0.4">48.23</text>
<text x="1326.8799999999999" y="610.3" font-size="17.5" font-weight="normal" fill="#131722" text-anchor="start" textLength="46.24" lengthAdjust="spacingAndGlyphs" stroke="#131722" stroke-width="0.4">40.00</text>
<text x="1326.8799999999999" y="665.8" font-size="17.5" font-weight="normal" fill="#131722" text-anchor="start" textLength="46.24" lengthAdjust="spacingAndGlyphs" stroke="#131722" stroke-width="0.4">24.17</text>
<text x="331.54" y="703" font-size="17.8" font-weight="bold" fill="#131722" text-anchor="start" textLength="44.14" lengthAdjust="spacingAndGlyphs">2026</text>
<text x="825.1" y="702.5" font-size="17.8" font-weight="normal" fill="#131722" text-anchor="start" textLength="30.80" lengthAdjust="spacingAndGlyphs" stroke="#131722" stroke-width="0.4">Feb</text>
<text x="1263.71" y="702.7" font-size="17.8" font-weight="normal" fill="#131722" text-anchor="start" textLength="30.51" lengthAdjust="spacingAndGlyphs" stroke="#131722" stroke-width="0.4">Mar</text>
<polygon points="1375.20,696.50 1369.90,705.04 1359.30,705.04 1354.00,696.50 1359.30,687.96 1369.90,687.96" fill="none" stroke="#131722" stroke-width="1.6" stroke-linejoin="round"/>
<circle cx="1364.6" cy="696.5" r="3.6" fill="none" stroke="#131722" stroke-width="1.6"/>
<g fill="#131313">
<path d="M6.9,629.4 H24.8 V652.6 H16.1 V638 H6.9 Z"/>
<circle cx="32.6" cy="633.8" r="4.2"/>
<path d="M41.8,629.5 H52.6 L43.7,652.6 H33 Z"/>
</g>
<text x="63.44" y="652.8" font-size="33" font-weight="bold" fill="#131722" text-anchor="start" textLength="185.95" lengthAdjust="spacingAndGlyphs">TradingView</text>
</svg></body></html>
